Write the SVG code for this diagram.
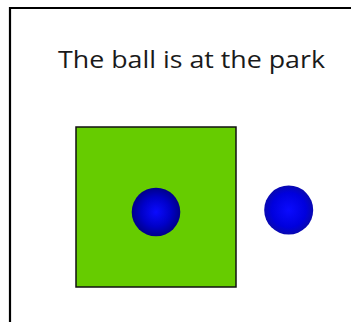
<svg xmlns="http://www.w3.org/2000/svg" width="351" height="322" viewBox="0 0 351 322">
<defs>
<radialGradient id="ballGrad" cx="50%" cy="50%" r="50%">
<stop offset="0" stop-color="#0a0aff"/>
<stop offset="0.6" stop-color="#0000c8"/>
<stop offset="1" stop-color="#00008a"/>
</radialGradient>
<radialGradient id="ballGrad2" cx="50%" cy="50%" r="50%">
<stop offset="0" stop-color="#0a0aff"/>
<stop offset="0.7" stop-color="#0000dd"/>
<stop offset="1" stop-color="#0808b0"/>
</radialGradient>
</defs>
<style>
.title{font-family:"Open Sans","Noto Sans","Liberation Sans",sans-serif;font-size:23px;fill:#1a1a1a;}
</style>
<rect x="0" y="0" width="351" height="322" fill="#ffffff"/>
<path d="M10 322 V8 H351" fill="none" stroke="#000" stroke-width="2.2"/>
<text class="title" x="191.5" y="68" text-anchor="middle" textLength="267" lengthAdjust="spacingAndGlyphs">The ball is at the park</text>
<g id="park">
<rect x="76" y="127" width="160" height="160" fill="#66cc00" stroke="#111" stroke-width="1.5"/>
</g>
<g id="ball-in-park">
<circle cx="156" cy="212" r="24.3" fill="url(#ballGrad)"/>
</g>
<g id="ball-outside">
<circle cx="288.7" cy="210" r="24.5" fill="url(#ballGrad2)"/>
</g>
<g id="connectors"></g>
</svg>
